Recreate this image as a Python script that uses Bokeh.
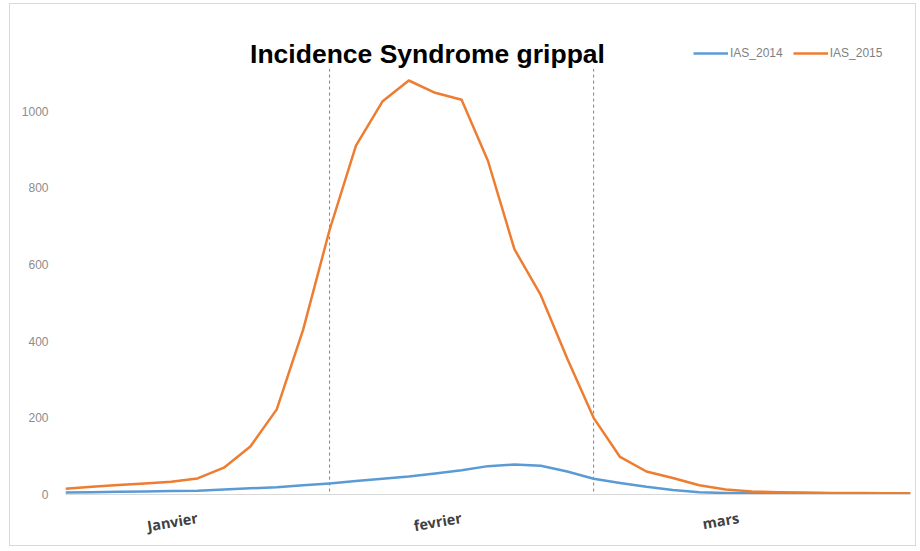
from bokeh.plotting import figure
from bokeh.models import Range1d, FixedTicker, Label, Legend, LegendItem
from bokeh.embed import file_html
from bokeh.resources import INLINE

# ---- data ----
week_index = list(range(33))
ias_2014 = [5, 6, 7, 8, 9, 10, 13, 16, 19, 24, 29, 35, 41, 47, 55, 63, 74, 78, 75,
            60, 41, 30, 20, 12, 6, 4, 3, 3, 3, 3, 3, 3, 3]
ias_2015 = [15, 20, 25, 29, 33, 42, 70, 125, 222, 430, 690, 910, 1025, 1080, 1048,
            1030, 870, 640, 520, 355, 200, 98, 60, 43, 24, 13, 8, 6, 5, 4, 4, 3, 3]
month_labels = ["Janvier", "fevrier", "mars"]
month_starts = [0, 10, 20]
month_ends = [10, 20, 31]
y_ticks = [0, 200, 400, 600, 800, 1000]
series_names = ["IAS_2014", "IAS_2015"]
title_text = "Incidence Syndrome grippal"

BLUE = "#5b9bd5"
ORANGE = "#ed7d31"

p = figure(width=907, height=543, output_backend="svg", toolbar_location=None,
           x_range=Range1d(0, 32), y_range=Range1d(0, 1200),
           min_border_left=55, min_border_right=7, min_border_top=30,
           min_border_bottom=53)
p.styles = {"margin-left": "9px", "margin-top": "3px", "border": "1px solid #d9d9d9"}
p.outline_line_color = None
p.background_fill_color = "white"
p.border_fill_color = "white"
p.xgrid.visible = False
p.ygrid.visible = False

# month dividers (dashed)
div_x = month_starts[1:]
p.segment(x0=div_x, x1=div_x, y0=[-8] * len(div_x), y1=[1110] * len(div_x),
          line_color="#808080", line_dash="3 3", line_width=1)

r14 = p.line(week_index, ias_2014, line_color=BLUE, line_width=2.5, line_join="round")
r15 = p.line(week_index, ias_2015, line_color=ORANGE, line_width=2.5, line_join="round")

# y axis
p.yaxis.ticker = FixedTicker(ticks=y_ticks)
p.yaxis.axis_line_color = None
p.yaxis.major_tick_line_color = None
p.yaxis.minor_tick_line_color = None
p.yaxis.major_label_standoff = 11
p.yaxis.major_label_text_font = "Liberation Sans"
p.yaxis.major_label_text_font_size = "12px"
p.yaxis.major_label_text_color = "#8c8c8c"

# x axis with month labels
centers = [(s + e) / 2 for s, e in zip(month_starts, month_ends)]
p.xaxis.ticker = FixedTicker(ticks=centers)
p.xaxis.major_label_overrides = {c: lab for c, lab in zip(centers, month_labels)}
p.xaxis.axis_line_color = "#d9d9d9"
p.xaxis.axis_line_width = 1
p.xaxis.major_tick_line_color = None
p.xaxis.minor_tick_line_color = None
p.xaxis.major_label_orientation = 0.17
p.xaxis.major_label_standoff = 17
p.xaxis.major_label_text_font = "Open Sans"
p.xaxis.major_label_text_font_style = "bold"
p.xaxis.major_label_text_font_size = "14.5px"
p.xaxis.major_label_text_color = "#404040"

# title
p.add_layout(Label(x=362, y=441, x_units="screen", y_units="screen",
                   text=title_text, text_align="center", text_baseline="alphabetic",
                   text_font="Liberation Sans", text_font_style="bold",
                   text_font_size="26.5px", text_color="#000000"))

# legend
legend = Legend(items=[LegendItem(label=series_names[0], renderers=[r14]),
                       LegendItem(label=series_names[1], renderers=[r15])],
                orientation="horizontal", location=(628, 434),
                margin=0, padding=2, spacing=10, glyph_width=35, glyph_height=12,
                label_standoff=2, label_text_font="Liberation Sans",
                label_text_font_size="12px", label_text_color="#7f7f7f",
                border_line_color=None, background_fill_alpha=0)
p.add_layout(legend)

open("out.html", "w").write(file_html(p, INLINE))
